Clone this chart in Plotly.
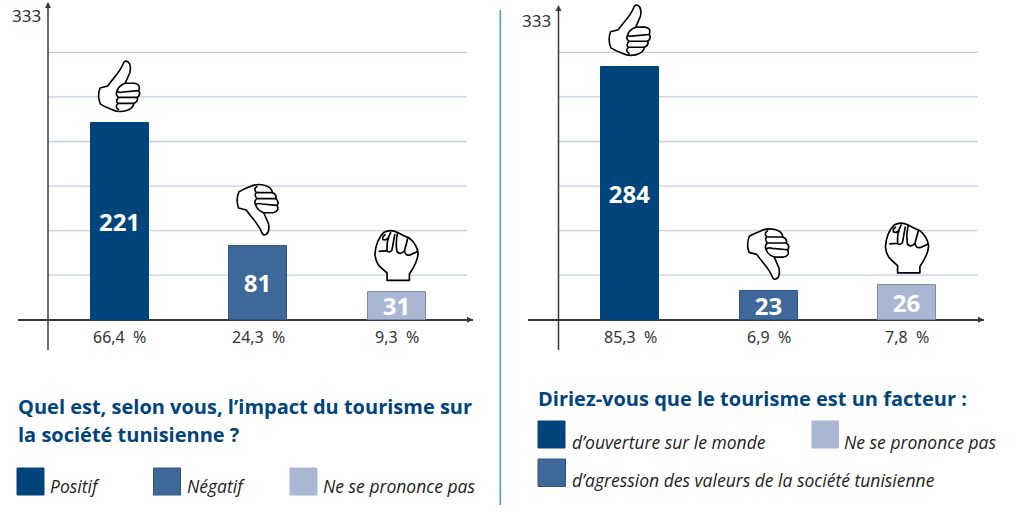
import base64
import plotly.graph_objects as go

W, H = 1024, 512

# ---- data
left_percent = ["66,4&nbsp;&nbsp;%", "24,3&nbsp;&nbsp;%", "9,3&nbsp;&nbsp;%"]
left_labels = ["221", "81", "31"]
left_heights = [221, 82.5, 31]
right_percent = ["85,3&nbsp;&nbsp;%", "6,9&nbsp;&nbsp;%", "7,8&nbsp;&nbsp;%"]
right_labels = ["284", "23", "26"]
right_heights = [284, 32.7, 39.4]
grid_values = [50, 100, 150, 200, 250, 300]
axis_max_label = "333"
bar_colors = ["#00447c", "#40699b", "#aab7d4"]
bar_lines = ["#00447c", "#2f5784", "#7f8a9c"]
left_title = ["Quel est, selon vous, l’impact du tourisme sur", "la société tunisienne ?"]
right_title = "Diriez-vous que le tourisme est un facteur :"
left_legend = ["Positif", "Négatif", "Ne se prononce pas"]
right_legend = ["d’ouverture sur le monde", "d’agression des valeurs de la société tunisienne", "Ne se prononce pas"]

TITLE_FONT = "Open Sans"
ITALIC_FONT = "Open Sans"
BLUE = "#00447c"

# ---- hand icons
THUMB = (
    '<path d="M7 84 L30 78 C45 55 65 40 76 12 Q80 0 90 6 Q101 14 96 38 L82 70 L110 70 '
    'Q130 74 122 92 Q130 102 118 112 Q122 124 108 130 Q106 146 84 152 Q62 158 42 148 '
    'Q20 140 8 132 Q-2 108 7 84 Z"/>'
    '<path d="M82 70 Q64 76 58 92 Q62 100 76 96 L122 92 M58 92 Q52 106 62 112 L118 112 '
    'M62 112 Q52 124 60 130 L108 130 M60 130 Q50 142 62 148" fill="none"/>'
)
FIST = (
    '<path d="M36 145 L100 145 L100 127 Q124 92 125 68 Q122 42 100 24 Q84 18 66 8 Q46 -3 26 8 '
    'Q4 30 1 70 Q4 98 20 110 L36 124 Z"/>'
    '<path d="M46 8 Q34 30 36 60 Q42 68 50 58 L58 14 M66 9 Q60 35 64 62 Q74 74 86 60 L96 22 '
    'M86 60 Q88 76 102 72 L124 62 M36 60 L14 62 M30 14 Q22 18 24 28 Q34 32 40 22" fill="none"/>'
)


def icon(body, w, h, transform=""):
    svg = (f'<svg xmlns="http://www.w3.org/2000/svg" width="{w*2}" height="{h*2}" viewBox="-3 -3 {w+6} {h+6}">'
           f'<g fill="#ffffff" stroke="#000000" stroke-width="4.8" stroke-linejoin="round" stroke-linecap="round" '
           f'transform="{transform}">{body}</g></svg>')
    return "data:image/svg+xml;base64," + base64.b64encode(svg.encode()).decode()


up = icon(THUMB, 130, 158)
down = icon(THUMB, 130, 158, "translate(0 158) scale(1 -1)")
fist = icon(FIST, 126, 148)
icons = [up, down, fist]

# ---- geometry
CAT_PX = 138.5
UNIT_PX = 0.891
ZERO_PX = 319.7
BOTTOM_PX = 350
BAR_W = 58 / CAT_PX
GAP = 9 / UNIT_PX


def val(px):
    return (ZERO_PX - px) / UNIT_PX


def fx(px):
    return px / W


def fy(px):
    return 1 - px / H


panels = [
    dict(xa="x", ya="y", xname="xaxis", yname="yaxis", left=18, right=473, top=2, center=119.5,
         axis=48, grid_end=467, heights=left_heights, labels=left_labels, pct=left_percent, tick_y=15.5, tick_r=43),
    dict(xa="x2", ya="y2", xname="xaxis2", yname="yaxis2", left=528, right=984, top=5, center=630,
         axis=558.5, grid_end=977.5, heights=right_heights, labels=right_labels, pct=right_percent, tick_y=20, tick_r=553),
]

fig = go.Figure()
shapes, annotations, images = [], [], []
AXIS = "#3a3a3a"

for p in panels:
    cat = lambda px: (px - p["center"]) / CAT_PX
    cats = [0, 1, 2]
    fig.add_trace(go.Bar(
        x=cats, y=p["heights"], width=BAR_W, xaxis=p["xa"], yaxis=p["ya"],
        marker=dict(color=bar_colors, line=dict(color=bar_lines, width=1)),
        text=p["labels"], textposition="inside", insidetextanchor="middle",
        constraintext="none", textangle=0, cliponaxis=False,
        textfont=dict(family=TITLE_FONT, size=24, color="#ffffff", weight=700),
        showlegend=False, hoverinfo="skip",
    ))
    fig.update_layout({
        p["xname"]: dict(domain=[fx(p["left"]), fx(p["right"])],
                         range=[cat(p["left"]), cat(p["right"])],
                         visible=False, anchor=p["ya"]),
        p["yname"]: dict(domain=[fy(BOTTOM_PX), 1],
                         range=[val(BOTTOM_PX), val(0)],
                         showgrid=False, showticklabels=False, ticks="", showline=False,
                         zeroline=True, zerolinecolor=AXIS, zerolinewidth=1.5, anchor=p["xa"]),
    })
    # gridlines
    for g in grid_values:
        shapes.append(dict(type="line", xref=p["xa"], yref=p["ya"], layer="below",
                           x0=cat(p["axis"]), x1=cat(p["grid_end"]), y0=g, y1=g,
                           line=dict(color="#c6cce4", width=1.3)))
    # vertical axis
    shapes.append(dict(type="line", xref=p["xa"], yref=p["ya"],
                       x0=cat(p["axis"]), x1=cat(p["axis"]), y0=val(BOTTOM_PX), y1=val(p["top"] + 3),
                       line=dict(color=AXIS, width=1.5)))
    # arrow heads
    annotations.append(dict(xref=p["xa"], yref=p["ya"], x=cat(p["axis"]), y=val(p["top"]),
                            axref=p["xa"], ayref=p["ya"], ax=cat(p["axis"]), ay=val(p["top"] + 8),
                            showarrow=True, arrowhead=2, arrowsize=1, arrowwidth=1.2, arrowcolor=AXIS, text=""))
    annotations.append(dict(xref=p["xa"], yref=p["ya"], x=cat(p["right"]), y=0,
                            axref=p["xa"], ayref=p["ya"], ax=cat(p["right"] - 8), ay=0,
                            showarrow=True, arrowhead=2, arrowsize=1, arrowwidth=1.2, arrowcolor=AXIS, text=""))
    # top label
    annotations.append(dict(xref="paper", yref=p["ya"], x=fx(p["tick_r"]), y=val(p["tick_y"]),
                            text=axis_max_label, showarrow=False, xanchor="right", yanchor="middle",
                            font=dict(family="Noto Sans", size=17, color="#333333")))
    for i in cats:
        # percent label under the axis
        annotations.append(dict(xref=p["xa"], yref=p["ya"], x=i, y=0, yshift=-17,
                                text=p["pct"][i], showarrow=False, xanchor="center", yanchor="middle",
                                font=dict(family="Noto Sans", size=16, color="#333333")))
        # hand icon above the bar
        images.append(dict(source=icons[i], xref=p["xa"], yref=p["ya"], x=i, y=p["heights"][i] + GAP,
                           sizex=46 / CAT_PX, sizey=55 / UNIT_PX, xanchor="center", yanchor="bottom",
                           sizing="contain", layer="above"))

# divider
shapes.append(dict(type="line", xref="paper", yref="paper", x0=fx(500.3), x1=fx(500.3), y0=fy(10), y1=fy(505),
                   line=dict(color="#5b9db5", width=1.6)))


def text(px, py, s, size, color, family, weight=400, style="normal", yanchor="middle"):
    annotations.append(dict(xref="paper", yref="paper", x=fx(px), y=fy(py), text=s, showarrow=False,
                            xanchor="left", yanchor=yanchor, align="left",
                            font=dict(family=family, size=size, color=color, weight=weight, style=style)))


def swatch(x0, y0, x1, y1, color, edge):
    shapes.append(dict(type="rect", xref="paper", yref="paper", x0=fx(x0), x1=fx(x1), y0=fy(y0), y1=fy(y1),
                       fillcolor=color, line=dict(color=edge, width=1)))


text(15.5, 406, left_title[0], 20, BLUE, TITLE_FONT, 700)
text(15.5, 434, left_title[1], 20, BLUE, TITLE_FONT, 700)
text(536, 398, right_title, 20, BLUE, TITLE_FONT, 700)

for x0, c, e, s, tx in zip([17, 153.5, 290], bar_colors, bar_lines, left_legend, [48, 185, 321]):
    swatch(x0, 468, x0 + 27, 495, c, e if c != bar_colors[2] else c)
    text(tx, 486, s, 17.5, "#222222", ITALIC_FONT, style="italic")

swatch(538, 421, 565, 448, bar_colors[0], bar_colors[0])
swatch(538, 459, 565.5, 486.5, bar_colors[1], bar_lines[1])
swatch(812, 421, 838.5, 448, bar_colors[2], bar_colors[2])
text(570, 441.5, right_legend[0], 17.5, "#222222", ITALIC_FONT, style="italic")
text(570, 479.5, right_legend[1], 17.5, "#222222", ITALIC_FONT, style="italic")
text(842, 441.5, right_legend[2], 17.5, "#222222", ITALIC_FONT, style="italic")

fig.update_layout(width=W, height=H, margin=dict(l=0, r=0, t=0, b=0), autosize=False,
                  paper_bgcolor="#ffffff", plot_bgcolor="rgba(0,0,0,0)", shapes=shapes,
                  annotations=annotations, images=images, bargap=0)
fig.write_html("out.html", config={"displayModeBar": False, "responsive": False},
               post_script="document.body.style.margin='0';document.body.style.overflow='hidden';")
